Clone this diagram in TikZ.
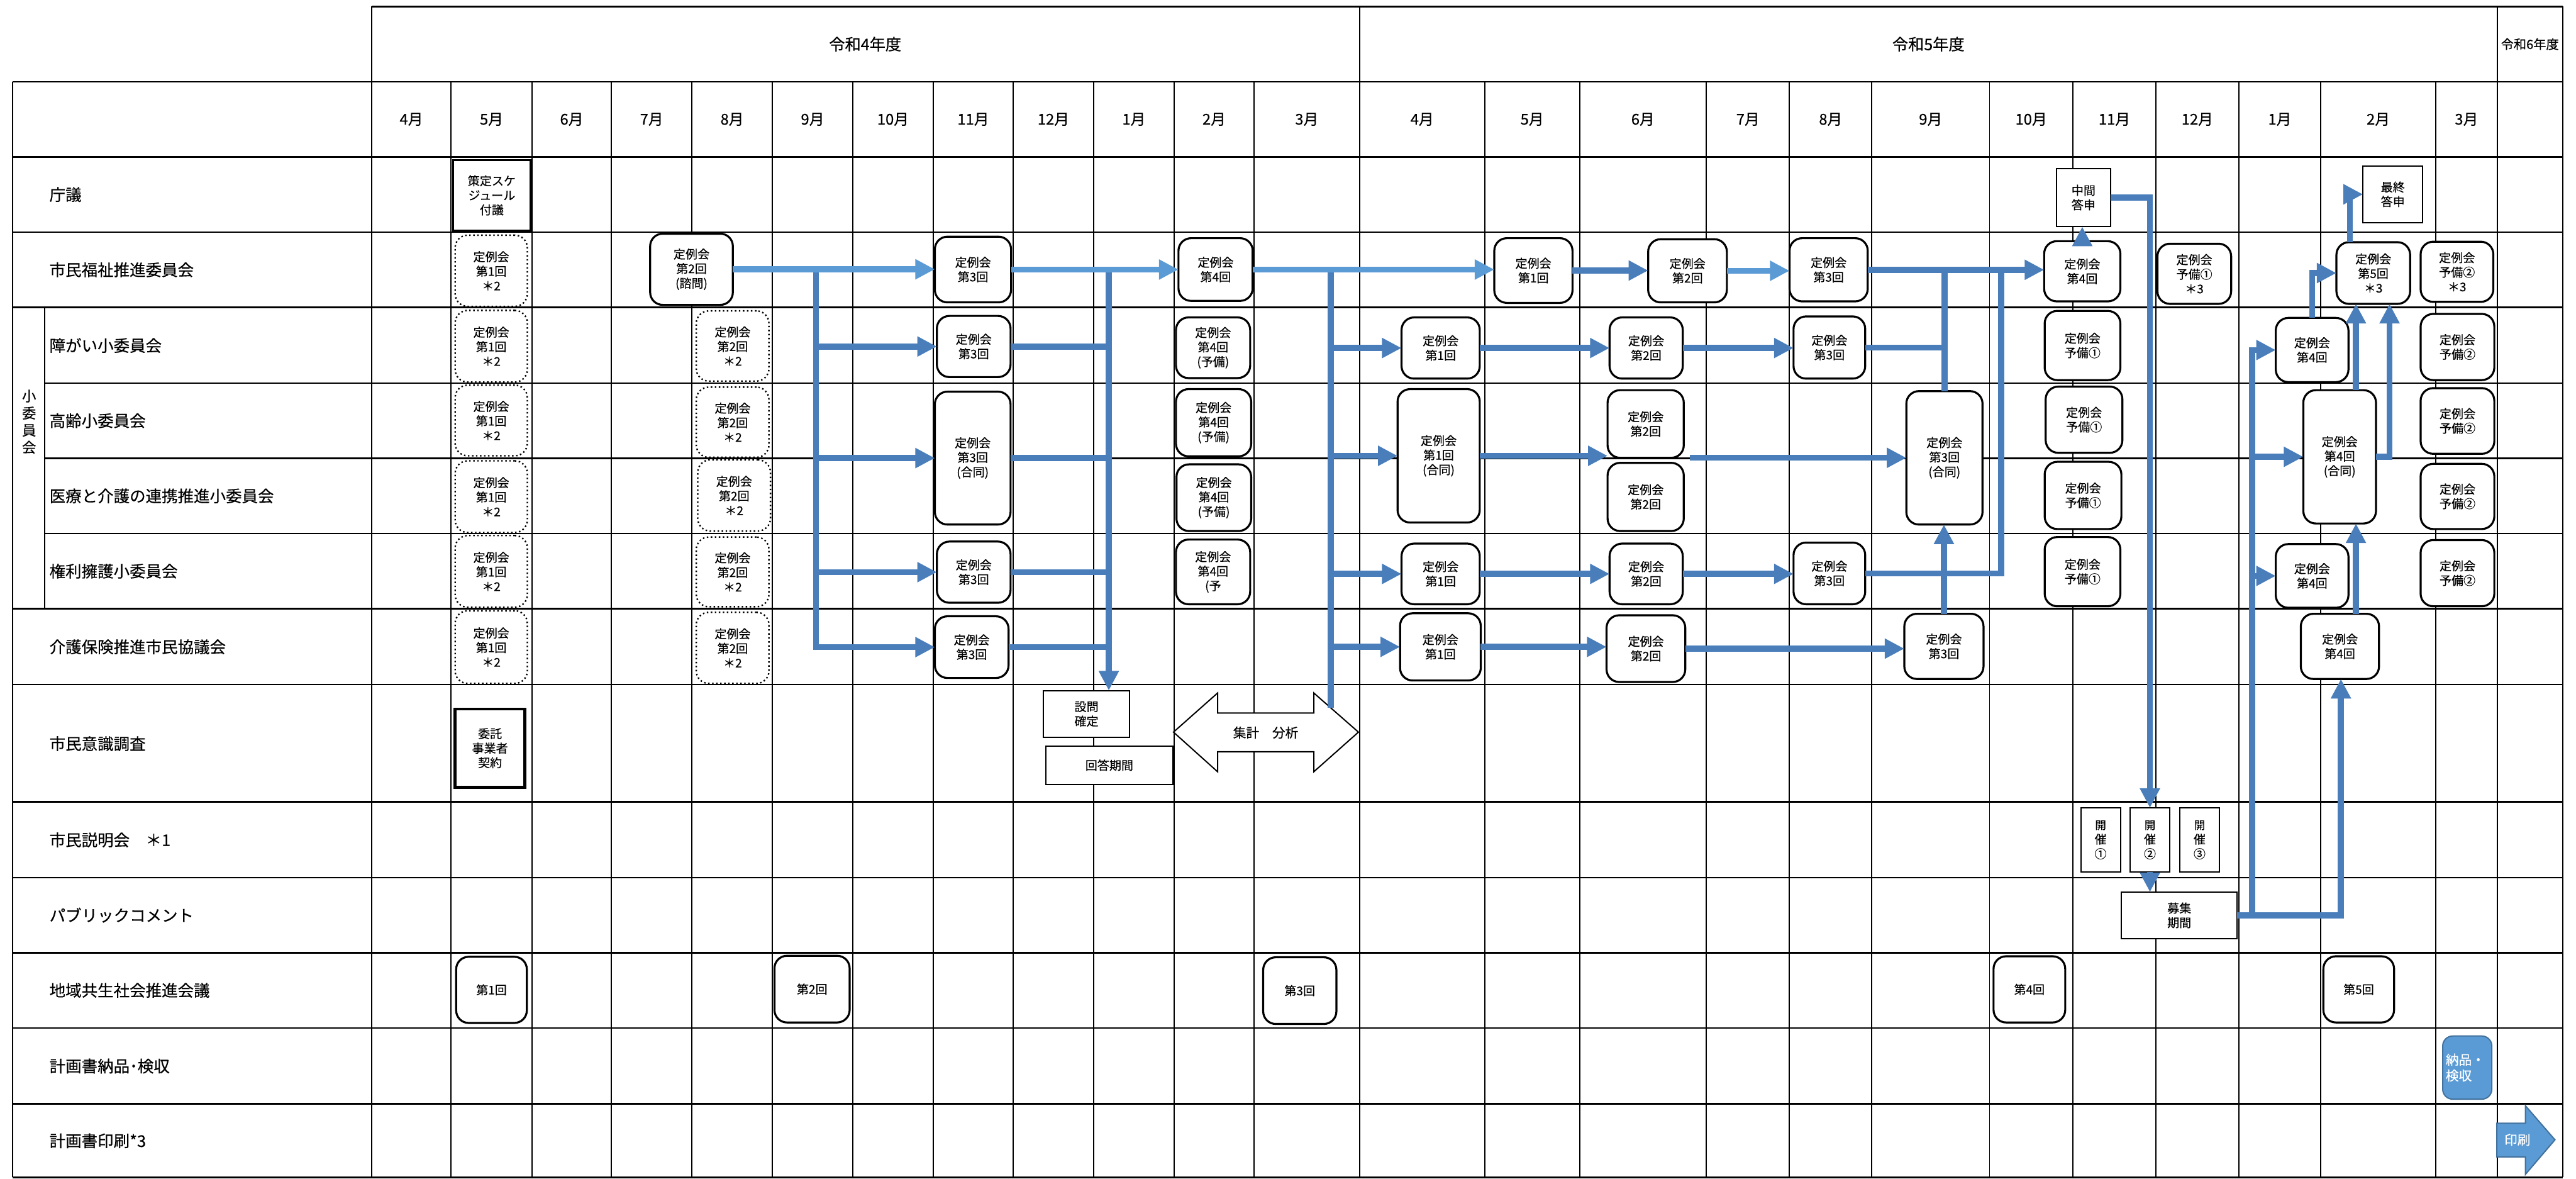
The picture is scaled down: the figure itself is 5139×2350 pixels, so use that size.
\documentclass[tikz,border=0pt]{standalone}
\usepackage{fontspec}
\setmainfont{Noto Sans CJK JP}[FakeBold=0.4]
\usetikzlibrary{arrows.meta}
\definecolor{bl}{RGB}{91,155,213}
\definecolor{bd}{RGB}{74,126,187}
\definecolor{bedge}{RGB}{65,113,156}
\newcommand\bxfont{\fontsize{6.8pt}{8.25pt}\selectfont}
\newcommand\lbfont{\fontsize{9.1pt}{11pt}\selectfont}
\newcommand\mofont{\fontsize{8.5pt}{10pt}\selectfont}
\newcommand\hdfont{\fontsize{9pt}{11pt}\selectfont}
\newcommand\smfont{\fontsize{7.2pt}{9pt}\selectfont}
\newcommand\kafont{\fontsize{6.2pt}{8.5pt}\selectfont}
\newcommand\vtfont{\fontsize{8pt}{9.7pt}\selectfont}
\newcommand\bgfont{\fontsize{7.4pt}{9pt}\selectfont}
\newcommand\boxat[7]{\node[#2, minimum width={(#5-#3)*0.1mm}, minimum height={(#6-#4)*0.1mm}] (#1) at ({(#3+#5)/2},{(#4+#6)/2}) {#7};}
\tikzset{
  vln/.style={line width=0.25mm},
  hln/.style={line width=0.3mm},
  rbox/.style={draw, line width=0.4mm, rounded corners=2.5mm, fill=white, align=center, font=\bxfont, inner sep=0pt, outer sep=0pt},
  dbox/.style={rbox, line width=0.3mm, dash pattern=on 0.3mm off 0.5mm},
  sbox/.style={draw, line width=0.25mm, fill=white, align=center, font=\bxfont, inner sep=0pt, outer sep=0pt},
  tbox/.style={sbox, line width=0.4mm},
  kbox/.style={sbox, line width=0.6mm},
  fl/.style={line width=1.2mm, color=bl, -{Triangle[length=3.9mm,width=3.8mm]}},
  fd/.style={line width=1.2mm, color=bd, -{Triangle[length=3.9mm,width=3.8mm]}},
  fdl/.style={line width=1.2mm, color=bd},
  rowlabel/.style={anchor=west, font=\lbfont, inner sep=0pt}
}
\begin{document}
\begin{tikzpicture}[x=0.1mm, y=-0.1mm]
\fill[white] (0,0) rectangle (5139,2350);
\useasboundingbox (0,0) rectangle (5139,2350);
% ---------- grid ----------
\foreach \x in {900,1061,1220,1380,1541,1701,1862,2021,2182,2342,2502,2962,3151,3404,3570,3734,3969,4135,4301,4466,4630,4859}
  \draw[vln] (\x,163) -- (\x,2348);
\foreach \x in {741,2712,4982,5113}
  \draw[vln] (\x,13) -- (\x,2348);
\draw[vln] (25,163) -- (25,2348);
\draw[vln] (89,613) -- (89,1214);
\draw[hln] (741,13) -- (5113,13);
\foreach \y in {163,313,463,613,1214,1365,1599,1750,1900,2050,2201,2348}
  \draw[hln] (25,\y) -- (5113,\y);
\foreach \y in {764,914,1064}
  \draw[hln] (89,\y) -- (5113,\y);
% ---------- headers ----------
\node[font=\hdfont] (r4) at (1726,88) {令和4年度};
\node[font=\hdfont] (r5) at (3847,88) {令和5年度};
\node[font=\smfont, inner sep=0pt] (r6) at (5047,88) {令和6年度};
\foreach \a/\b/\t in {741/900/4月,900/1061/5月,1061/1220/6月,1220/1380/7月,1380/1541/8月,1541/1701/9月,1701/1862/10月,1862/2021/11月,2021/2182/12月,2182/2342/1月,2342/2502/2月,2502/2712/3月,2712/2962/4月,2962/3151/5月,3151/3404/6月,3404/3570/7月,3570/3734/8月,3734/3969/9月,3969/4135/10月,4135/4301/11月,4301/4466/12月,4466/4630/1月,4630/4859/2月,4859/4982/3月}
  \node[font=\mofont] (mon-\a) at ({(\a+\b)/2},238) {\t};
% ---------- row labels ----------
\node[rowlabel] (l1) at (98,388) {庁議};
\node[rowlabel] (l2) at (98,538) {市民福祉推進委員会};
\node[font=\vtfont, align=center, inner sep=0pt] (lsub) at (58,841) {小\\委\\員\\会};
\node[rowlabel] (l3) at (98,689) {障がい小委員会};
\node[rowlabel] (l4) at (98,839) {高齢小委員会};
\node[rowlabel] (l5) at (98,989) {医療と介護の連携推進小委員会};
\node[rowlabel] (l6) at (98,1139) {権利擁護小委員会};
\node[rowlabel] (l7) at (98,1290) {介護保険推進市民協議会};
\node[rowlabel] (l8) at (98,1483) {市民意識調査};
\node[rowlabel] (l9) at (98,1675) {市民説明会　＊1};
\node[rowlabel] (l10) at (98,1825) {パブリックコメント};
\node[rowlabel] (l11) at (98,1975) {地域共生社会推進会議};
\node[rowlabel] (l12) at (98,2126) {計画書納品･検収};
\node[rowlabel] (l13) at (98,2275) {計画書印刷*3};
% ---------- 庁議 ----------
\boxat{sakutei}{tbox}{904}{319}{1058}{460}{策定スケ\\ジュール\\付議}
\boxat{chukan}{sbox}{4103}{336}{4210}{452}{中間\\答申}
\boxat{saishu}{sbox}{4714}{331}{4833}{444}{最終\\答申}
% ---------- 市民福祉推進委員会 ----------
\boxat{f1}{dbox}{908}{469}{1052}{611}{定例会\\第1回\\＊2}
\boxat{f2}{rbox}{1297}{466}{1462}{608}{定例会\\第2回\\(諮問)}
\boxat{f3}{rbox}{1865}{472}{2017}{603}{定例会\\第3回}
\boxat{f4}{rbox}{2351}{475}{2499}{600}{定例会\\第4回}
\boxat{g1}{rbox}{2981}{475}{3137}{604}{定例会\\第1回}
\boxat{g2}{rbox}{3288}{477}{3445}{603}{定例会\\第2回}
\boxat{g3}{rbox}{3570}{475}{3726}{601}{定例会\\第3回}
\boxat{g4}{rbox}{4078}{481}{4230}{601}{定例会\\第4回}
\boxat{gy1}{rbox}{4304}{486}{4451}{606}{定例会\\予備①\\＊3}
\boxat{g5}{rbox}{4661}{483}{4808}{606}{定例会\\第5回\\＊3}
\boxat{gy2}{rbox}{4829}{482}{4974}{602}{定例会\\予備②\\＊3}
% ---------- 障がい ----------
\boxat{a1}{dbox}{908}{619}{1052}{762}{定例会\\第1回\\＊2}
\boxat{a2}{dbox}{1389}{620}{1534}{760}{定例会\\第2回\\＊2}
\boxat{a3}{rbox}{1869}{630}{2016}{752}{定例会\\第3回}
\boxat{a4}{rbox}{2346}{633}{2494}{754}{定例会\\第4回\\(予備)}
\boxat{b1}{rbox}{2796}{633}{2952}{755}{定例会\\第1回}
\boxat{b2}{rbox}{3211}{633}{3357}{755}{定例会\\第2回}
\boxat{b3}{rbox}{3578}{631}{3721}{755}{定例会\\第3回}
\boxat{by1}{rbox}{4079}{620}{4230}{758}{定例会\\予備①}
\boxat{b4}{rbox}{4540}{634}{4685}{762}{定例会\\第4回}
\boxat{by2}{rbox}{4829}{626}{4976}{758}{定例会\\予備②}
% ---------- 高齢 ----------
\boxat{k1}{dbox}{908}{768}{1052}{909}{定例会\\第1回\\＊2}
\boxat{k2}{dbox}{1389}{772}{1534}{912}{定例会\\第2回\\＊2}
\boxat{j3}{rbox}{1865}{781}{2016}{1046}{定例会\\第3回\\(合同)}
\boxat{k4}{rbox}{2346}{776}{2496}{910}{定例会\\第4回\\(予備)}
\boxat{j5a}{rbox}{2788}{776}{2952}{1042}{定例会\\第1回\\(合同)}
\boxat{k5b}{rbox}{3207}{778}{3359}{913}{定例会\\第2回}
\boxat{j5c}{rbox}{3803}{780}{3955}{1046}{定例会\\第3回\\(合同)}
\boxat{ky1}{rbox}{4081}{771}{4234}{903}{定例会\\予備①}
\boxat{j5d}{rbox}{4595}{778}{4740}{1044}{定例会\\第4回\\(合同)}
\boxat{ky2}{rbox}{4829}{774}{4976}{905}{定例会\\予備②}
% ---------- 医療と介護 ----------
\boxat{m1}{dbox}{908}{919}{1052}{1062}{定例会\\第1回\\＊2}
\boxat{m2}{dbox}{1392}{917}{1537}{1059}{定例会\\第2回\\＊2}
\boxat{m4}{rbox}{2347}{926}{2496}{1059}{定例会\\第4回\\(予備)}
\boxat{m5b}{rbox}{3207}{923}{3359}{1059}{定例会\\第2回}
\boxat{my1}{rbox}{4079}{921}{4232}{1055}{定例会\\予備①}
\boxat{my2}{rbox}{4829}{925}{4976}{1055}{定例会\\予備②}
% ---------- 権利擁護 ----------
\boxat{r1}{dbox}{908}{1068}{1052}{1211}{定例会\\第1回\\＊2}
\boxat{r2}{dbox}{1389}{1071}{1534}{1210}{定例会\\第2回\\＊2}
\boxat{r3}{rbox}{1869}{1080}{2016}{1202}{定例会\\第3回}
\boxat{r4}{rbox}{2346}{1076}{2494}{1205}{\fontsize{6.8pt}{6.9pt}\selectfont 定例会\\第4回\\(予}
\boxat{s1}{rbox}{2796}{1084}{2952}{1205}{定例会\\第1回}
\boxat{s2}{rbox}{3211}{1084}{3357}{1205}{定例会\\第2回}
\boxat{s3}{rbox}{3578}{1082}{3721}{1205}{定例会\\第3回}
\boxat{ry1}{rbox}{4079}{1071}{4230}{1209}{定例会\\予備①}
\boxat{s4}{rbox}{4540}{1085}{4685}{1212}{定例会\\第4回}
\boxat{ry2}{rbox}{4829}{1077}{4976}{1209}{定例会\\予備②}
% ---------- 介護保険 ----------
\boxat{c1}{dbox}{908}{1218}{1052}{1363}{定例会\\第1回\\＊2}
\boxat{c2}{dbox}{1389}{1221}{1534}{1363}{定例会\\第2回\\＊2}
\boxat{c3}{rbox}{1865}{1229}{2012}{1352}{定例会\\第3回}
\boxat{d1}{rbox}{2793}{1223}{2954}{1357}{定例会\\第1回}
\boxat{d2}{rbox}{3205}{1227}{3362}{1360}{定例会\\第2回}
\boxat{d3}{rbox}{3799}{1224}{3957}{1354}{定例会\\第3回}
\boxat{d4}{rbox}{4590}{1224}{4746}{1354}{定例会\\第4回}
% ---------- 市民意識調査 ----------
\boxat{itaku}{kbox}{908}{1414}{1047}{1570}{委託\\事業者\\契約}
\boxat{setsumon}{sbox}{2082}{1377}{2253}{1471}{設問\\確定}
\boxat{kaito}{sbox}{2086}{1488}{2340}{1564}{回答期間}
\draw[line width=0.25mm, fill=white] (2341,1460) -- (2429,1382) -- (2429,1422) -- (2621,1422) -- (2621,1382) -- (2710,1460) -- (2621,1539) -- (2621,1499) -- (2429,1499) -- (2429,1539) -- cycle;
\node[font=\bgfont] (shukei) at (2525,1461) {集計　分析};
\coordinate (shukeiTip) at (2655,1412);
% ---------- 市民説明会 ----------
\boxat{kai1}{sbox}{4151}{1611}{4230}{1739}{\kafont 開\\催\\①}
\boxat{kai2}{sbox}{4249}{1611}{4329}{1739}{\kafont 開\\催\\②}
\boxat{kai3}{sbox}{4348}{1611}{4428}{1739}{\kafont 開\\催\\③}
% ---------- パブリックコメント ----------
\boxat{boshu}{sbox}{4232}{1779}{4463}{1872}{募集\\期間}
% ---------- 地域共生社会推進会議 ----------
\boxat{t1}{rbox}{910}{1908}{1051}{2040}{第1回}
\boxat{t2}{rbox}{1545}{1906}{1695}{2039}{第2回}
\boxat{t3}{rbox}{2520}{1909}{2666}{2042}{第3回}
\boxat{t4}{rbox}{3977}{1907}{4120}{2039}{第4回}
\boxat{t5}{rbox}{4635}{1907}{4776}{2039}{第5回}
% ---------- 納品・印刷 ----------
\node[draw=bedge, fill=bl, rounded corners=2mm, line width=0.25mm, minimum width=9.8mm, minimum height=12.6mm, text width=8.6mm, align=left, inner sep=0.6mm, outer sep=0pt, text=white, font=\bgfont] (nohin) at (4922,2129) {納品・\\検収};
\draw[draw=bedge, fill=bl, line width=0.25mm] (4981,2240) -- (5038,2240) -- (5038,2205) -- (5097,2273) -- (5038,2342) -- (5038,2307) -- (4981,2307) -- cycle;
\node[text=white, font=\bgfont] (insatsu) at (5022,2273) {印刷};
% ---------- connectors ----------
\coordinate (busA) at (1628,534);
\coordinate (busB) at (2212,543);
\coordinate (busC) at (2655,540);
\coordinate (gapR) at (3371,913);
\coordinate (busE) at (3992,540);
\coordinate (busF) at (4493,1825);
\coordinate (colG) at (4700,0);
\coordinate (colH) at (4767,0);
\coordinate (colI) at (4688,0);
\coordinate (colJ) at (4670,0);
% R4 buses
\draw[fdl] (a3.east) -- (a3.east -| busB);
\draw[fdl] (j3.east) -- (j3.east -| busB);
\draw[fdl] (r3.east) -- (r3.east -| busB);
\draw[fdl] (c3.east) -- (c3.east -| busB);
\draw[fd] (busB) -- (busB |- setsumon.north);
\draw[fd] (busA) |- (c3.west);
\draw[fd] (busA |- a3.west) -- (a3.west);
\draw[fd] (busA |- j3.west) -- (j3.west);
\draw[fd] (busA |- r3.west) -- (r3.west);
\draw[fdl] (shukeiTip) -- (busC);
\draw[fd] (busC |- b1.west) -- (b1.west);
\draw[fd] (busC |- j5a.west) -- (j5a.west);
\draw[fd] (busC |- s1.west) -- (s1.west);
\draw[fd] (busC |- d1.west) -- (d1.west);
% main line
\draw[fl] (f2.east) -- (f2.east -| f3.west);
\draw[fl] (f3.east) -- (f3.east -| f4.west);
\draw[fl] (f4.east) -- (f4.east -| g1.west);
\draw[fd] (g1.east) -- (g1.east -| g2.west);
\draw[fl] (g2.east) -- (g2.east -| g3.west);
% R5 rows
\draw[fd] (b1.east) -- (b1.east -| b2.west);
\draw[fd] (b2.east) -- (b2.east -| b3.west);
\draw[fd] (j5a.east) -- (j5a.east -| k5b.west);
\draw[fd] (gapR) -- (gapR -| j5c.west);
\draw[fd] (s1.east) -- (s1.east -| s2.west);
\draw[fd] (s2.east) -- (s2.east -| s3.west);
\draw[fd] (d1.east) -- (d1.east -| d2.west);
\draw[fd] (d2.east) -- (d2.east -| d3.west);
\draw[fdl] (b3.east) -- (b3.east -| j5c.north);
\draw[fdl] (j5c.north) -- (j5c.north |- g3.east);
\draw[fd] (d3.north) -- (d3.north |- j5c.south);
\draw[fdl] (s3.east) -| (busE);
\draw[fd] (g3.east) -- (g3.east -| g4.west);
\draw[fd] (g4.north) -- (g4.north |- chukan.south);
\draw[fd] (chukan.east) -| (kai2.north);
\draw[fd] (kai2.south) -- (kai2.south |- boshu.north);
\draw[fd] (boshu.east) -| (busF |- b4.west) -- (b4.west);
\draw[fd] (busF |- j5d.west) -- (j5d.west);
\draw[fd] (busF |- s4.west) -- (s4.west);
\draw[fd] (boshu.east) -| (colJ |- d4.south);
\draw[fd] (colG |- d4.north) -- (colG |- j5d.south);
\draw[fd] (colG |- j5d.north) -- (colG |- g5.south);
\draw[fd] (j5d.east) -| (colH |- g5.south);
\draw[fd] (b4.north) |- (g5.west);
\draw[fd] (colI |- g5.north) |- (saishu.west);
\end{tikzpicture}
\end{document}
